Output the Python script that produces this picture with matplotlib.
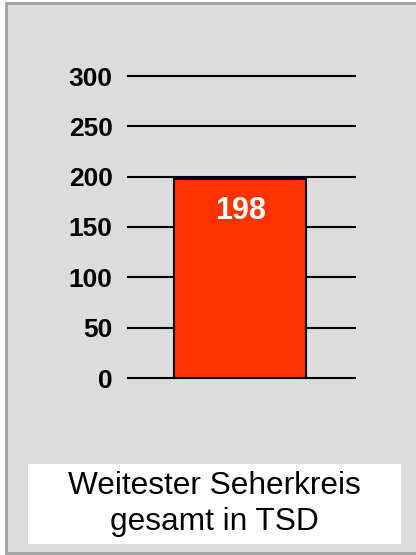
import matplotlib
matplotlib.use("Agg")
import matplotlib.pyplot as plt
from matplotlib.patches import Rectangle

categories = ["Weitester Seherkreis gesamt in TSD"]
values = [198]
yticks = [0, 50, 100, 150, 200, 250, 300]
caption = "Weitester Seherkreis\ngesamt in TSD"

W, H = 416, 555
fig = plt.figure(figsize=(W / 100, H / 100), dpi=100)
fig.patch.set_facecolor("white")
plt.rcParams["font.family"] = ["Liberation Sans", "DejaVu Sans"]

# gray panel with border
fig.patches.append(Rectangle((6 / W, 1 - 553 / H), (W - 6) / W + 0.01, (553 - 3) / H,
                             transform=fig.transFigure, facecolor="#DCDCDC",
                             edgecolor="#A0A0A0", linewidth=2, zorder=-2))

# axes: 0 -> y=378px, 300 -> y=76px ; x from 128 to 355 px
ax = fig.add_axes([128 / W, 1 - 378 / H, (355 - 128) / W, (378 - 76) / H])
ax.set_zorder(5)
ax.set_facecolor("none")
ax.set_ylim(0, 300)
ax.set_xlim(-0.5, 0.5)
for s in ax.spines.values():
    s.set_visible(False)
ax.set_xticks([])
ax.set_yticks(yticks)
ax.set_yticklabels([str(t) for t in yticks], fontsize=19, fontweight="bold")
ax.tick_params(axis="y", length=0, pad=11)
for t in yticks:
    ax.axhline(t, color="black", linewidth=1.5, zorder=1, clip_on=False)

bars = ax.bar([-0.006], values, width=0.58, color="#FF3300", edgecolor="black",
              linewidth=1.5, zorder=2)
for b, v in zip(bars, values):
    ax.text(b.get_x() + b.get_width() / 2, v - 32, str(v), ha="center", va="center",
            color="white", fontsize=22, fontweight="bold", zorder=3)

# caption box
fig.patches.append(Rectangle((28 / W, 1 - 544 / H), (401 - 28) / W, (544 - 464) / H,
                             transform=fig.transFigure, facecolor="white",
                             edgecolor="none", zorder=-1))
fig.text(214 / W, 1 - 504 / H, caption, ha="center", va="center", fontsize=22.8,
         linespacing=1.22, color="black")

fig.savefig("out.png", dpi=100)
